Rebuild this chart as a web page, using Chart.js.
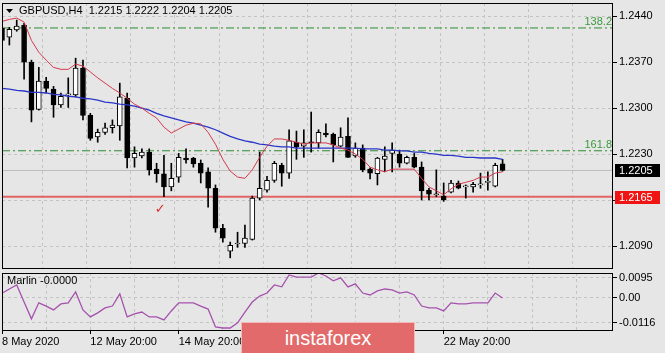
<!DOCTYPE html>
<html>
<head>
<meta charset="utf-8">
<script src="https://cdn.jsdelivr.net/npm/chart.js@4.4.1/dist/chart.umd.min.js"></script>
<style>
  html, body { margin: 0; padding: 0; background: #e6e6e6; }
  #wrap { position: relative; width: 665px; height: 353px; overflow: hidden; }
  #main { position: absolute; left: 0; top: 0; }
  #osc { position: absolute; left: 0; top: 271px; }
  #logo {
    position: absolute; left: 241px; top: 322px; width: 172px; height: 31px;
    background: #e26a6a; border: 1px solid #f3b9b9; color: #fff;
    font: 20px "Liberation Sans", Arial, sans-serif; text-align: center; line-height: 30px;
  }
</style>
</head>
<body>
<div id="wrap">
  <canvas id="main" width="665" height="271"></canvas>
  <canvas id="osc" width="665" height="82"></canvas>
  <div id="logo">instaforex</div>
</div>
<script>
// GBPUSD H4 candles
const opens  = [1.2422,1.2408,1.2419,1.2426,1.2370,1.2298,1.2341,1.2329,1.2305,1.2320,1.2320,1.2361,1.2289,1.2256,1.2263,1.2270,1.2273,1.2315,1.2224,1.2227,
                1.2233,1.2207,1.2200,1.2180,1.2195,1.2224,1.2224,1.2216,1.2203,1.2178,1.2117,1.2082,1.2093,1.2094,1.2100,1.2163,1.2175,1.2190,1.2213,1.2201,
                1.2248,1.2242,1.2248,1.2247,1.2262,1.2260,1.2242,1.2257,1.2227,1.2239,1.2207,1.2200,1.2222,1.2231,1.2230,1.2216,1.2225,1.2210,1.2175,1.2168,
                1.2166,1.2172,1.2186,1.2180,1.2180,1.2183,1.2187,1.2181,1.2215];
const highs  = [1.2425,1.2423,1.2434,1.2429,1.2373,1.2362,1.2347,1.2333,1.2323,1.2346,1.2376,1.2373,1.2292,1.2268,1.2277,1.2282,1.2338,1.2323,1.2241,1.2238,
                1.2238,1.2216,1.2228,1.2216,1.2231,1.2238,1.2225,1.2221,1.2209,1.2183,1.2123,1.2096,1.2111,1.2122,1.2166,1.2233,1.2196,1.2219,1.2216,1.2267,
                1.2265,1.2267,1.2294,1.2267,1.2276,1.2262,1.2270,1.2285,1.2247,1.2244,1.2209,1.2225,1.2241,1.2247,1.2236,1.2227,1.2231,1.2218,1.2178,1.2206,
                1.2186,1.2190,1.2189,1.2183,1.2187,1.2201,1.2203,1.2216,1.2222];
const lows   = [1.2400,1.2396,1.2417,1.2344,1.2279,1.2297,1.2323,1.2286,1.2301,1.2301,1.2317,1.2282,1.2251,1.2248,1.2260,1.2262,1.2251,1.2209,1.2210,1.2224,
                1.2198,1.2187,1.2165,1.2174,1.2187,1.2216,1.2210,1.2186,1.2149,1.2111,1.2096,1.2072,1.2088,1.2088,1.2099,1.2160,1.2172,1.2187,1.2181,1.2193,
                1.2222,1.2225,1.2233,1.2239,1.2256,1.2218,1.2241,1.2225,1.2225,1.2203,1.2192,1.2183,1.2203,1.2203,1.2210,1.2215,1.2209,1.2160,1.2160,1.2165,
                1.2158,1.2171,1.2177,1.2163,1.2172,1.2178,1.2175,1.2180,1.2204];
const closes = [1.2403,1.2420,1.2425,1.2370,1.2297,1.2341,1.2330,1.2305,1.2318,1.2321,1.2361,1.2289,1.2254,1.2263,1.2270,1.2274,1.2317,1.2224,1.2231,1.2233,
                1.2206,1.2200,1.2180,1.2193,1.2225,1.2221,1.2215,1.2201,1.2178,1.2117,1.2102,1.2091,1.2093,1.2102,1.2163,1.2178,1.2190,1.2216,1.2201,1.2250,
                1.2241,1.2247,1.2247,1.2263,1.2259,1.2244,1.2256,1.2225,1.2239,1.2206,1.2201,1.2224,1.2227,1.2236,1.2216,1.2225,1.2210,1.2174,1.2169,1.2168,
                1.2160,1.2186,1.2178,1.2180,1.2184,1.2183,1.2187,1.2213,1.2205];

// moving averages as drawn on the chart
const maFast = [1.2432,1.2435,1.2437,1.2431,1.2403,1.2385,1.2373,1.2362,1.2359,1.2359,1.2367,1.2364,1.2355,1.2346,1.2338,1.2330,1.2323,1.2315,1.2306,1.2300,
                1.2292,1.2285,1.2271,1.2262,1.2268,1.2274,1.2277,1.2276,1.2263,1.2245,1.2222,1.2204,1.2195,1.2193,1.2206,1.2225,1.2242,1.2253,1.2253,1.2251,
                1.2248,1.2245,1.2247,1.2247,1.2247,1.2244,1.2239,1.2236,1.2230,1.2222,1.2210,1.2206,1.2203,1.2207,1.2207,1.2207,1.2207,1.2193,1.2180,1.2174,
                1.2168,1.2177,1.2184,1.2187,1.2190,1.2195,1.2195,1.2201,1.2203];
const maSlow = [1.2330,1.2329,1.2327,1.2326,1.2324,1.2324,1.2323,1.2321,1.2320,1.2318,1.2317,1.2315,1.2314,1.2312,1.2309,1.2308,1.2306,1.2305,1.2303,1.2300,
                1.2297,1.2292,1.2288,1.2285,1.2282,1.2279,1.2277,1.2274,1.2271,1.2267,1.2262,1.2257,1.2253,1.2250,1.2248,1.2245,1.2244,1.2242,1.2241,1.2241,
                1.2239,1.2239,1.2239,1.2239,1.2239,1.2239,1.2239,1.2239,1.2239,1.2238,1.2238,1.2238,1.2236,1.2236,1.2235,1.2235,1.2233,1.2233,1.2231,1.2230,
                1.2228,1.2228,1.2227,1.2225,1.2225,1.2224,1.2224,1.2224,1.2222];

// Marlin oscillator
const marlin = [0.0022,0.0042,0.0061,-0.0019,-0.0098,-0.0023,-0.0038,-0.0056,-0.0028,-0.0023,0.0028,-0.0056,-0.0089,-0.0070,-0.0047,-0.0038,0.0019,-0.0089,-0.0075,-0.0066,
                -0.0089,-0.0089,-0.0103,-0.0061,-0.0023,-0.0023,-0.0023,-0.0038,-0.0052,-0.0136,-0.0141,-0.0141,-0.0117,-0.0066,-0.0019,0.0009,0.0023,0.0061,0.0052,0.0108,
                0.0098,0.0098,0.0098,0.0117,0.0103,0.0080,0.0094,0.0052,0.0066,0.0023,0.0014,0.0033,0.0042,0.0038,0.0023,0.0028,0.0014,-0.0038,-0.0047,-0.0047,
                -0.0061,-0.0023,-0.0028,-0.0028,-0.0023,-0.0023,-0.0023,0.0023,0.0000];

const slotCount = 84;
const timeLabels = { 0: '8 May 2020', 12: '12 May 20:00', 24: '14 May 20:00', 60: '22 May 20:00' };
const priceTicks = [1.2440, 1.2370, 1.2300, 1.2230, 1.2160, 1.2090];
const marlinTicks = [0.0095, 0, -0.0116];
const fiboNames = ['138.2', '161.8'];
const fiboLevels = [1.2422, 1.2235];
const supportLevel = 1.2165;
const lastPrice = closes[closes.length - 1];

const slots = Array.from({ length: slotCount }, (_, i) => 'b' + i);
const gridColor = '#c3c3c3';

Chart.defaults.font.family = '"Liberation Sans", Arial, sans-serif';
Chart.defaults.font.size = 11;
Chart.defaults.color = '#000';

function xAxis(showLabels) {
  return {
    type: 'category',
    offset: false,
    border: { display: false, dash: [3, 3] },
    grid: {
      color: c => (c.index % 6 === 0 && c.index > 0) ? gridColor : 'rgba(0,0,0,0)',
      drawTicks: showLabels,
      tickLength: 3,
      tickColor: c => timeLabels[c.index] ? '#000' : 'rgba(0,0,0,0)'
    },
    ticks: {
      display: showLabels,
      autoSkip: false,
      maxRotation: 0,
      align: 'start',
      padding: 1,
      callback: (v, i) => timeLabels[i] || ''
    },
    afterFit: s => {
      s.height = showLabels ? 22 : 0;
      s.paddingLeft = 0; s.paddingRight = 0;
    }
  };
}

function yAxis(min, max, ticks, fmt) {
  return {
    position: 'right',
    min: min, max: max,
    border: { display: false, dash: [3, 3] },
    grid: { color: gridColor, tickLength: 4, tickColor: '#000' },
    ticks: { padding: 2, callback: fmt },
    afterBuildTicks: s => { s.ticks = ticks.map(v => ({ value: v })); },
    afterFit: s => {
      s.width = 52;
      s.paddingTop = 0; s.paddingBottom = 0;
    }
  };
}

const frame = {
  id: 'frame',
  afterDraw(chart) {
    const { ctx, chartArea: a } = chart;
    ctx.save();
    ctx.strokeStyle = '#000';
    ctx.lineWidth = 1;
    ctx.strokeRect(Math.round(a.left) + 0.5, Math.round(a.top) + 0.5,
      Math.round(a.right - a.left) - 1, Math.round(a.bottom - a.top) - 1);
    ctx.restore();
  }
};

const mainText = {
  id: 'mainText',
  afterDraw(chart) {
    const { ctx, scales: { x, y } } = chart;
    ctx.save();
    ctx.font = '11px "Liberation Sans", Arial, sans-serif';
    ctx.textBaseline = 'middle';
    // header
    ctx.fillStyle = '#000';
    ctx.beginPath();
    ctx.moveTo(6, 9); ctx.lineTo(13, 9); ctx.lineTo(9.5, 13); ctx.closePath(); ctx.fill();
    const n = closes.length - 1;
    ctx.fillText('GBPUSD,H4  ' + opens[n].toFixed(4) + ' ' + highs[n].toFixed(4) + ' ' +
      lows[n].toFixed(4) + ' ' + closes[n].toFixed(4), 19, 11);
    // fibo names
    ctx.fillStyle = '#3c9a3c';
    ctx.textAlign = 'right';
    ctx.textBaseline = 'alphabetic';
    fiboLevels.forEach((v, i) => ctx.fillText(fiboNames[i], 612, y.getPixelForValue(v) - 3));
    // price tags
    ctx.textAlign = 'left';
    ctx.textBaseline = 'middle';
    [[lastPrice, '#000'], [supportLevel, '#f01515']].forEach(([v, bg]) => {
      const py = Math.round(y.getPixelForValue(v));
      ctx.fillStyle = bg;
      ctx.fillRect(615, py - 6, 45, 13);
      ctx.fillStyle = '#fff';
      ctx.fillText(v.toFixed(4), 619, py + 0.5);
    });
    // check mark
    ctx.fillStyle = '#e02828';
    ctx.textAlign = 'center';
    ctx.font = '13px "DejaVu Sans", sans-serif';
    ctx.fillText('\u2713', x.getPixelForValue(21.5), y.getPixelForValue(1.2146));
    ctx.restore();
  }
};

const oscText = {
  id: 'oscText',
  afterDraw(chart) {
    const { ctx } = chart;
    ctx.save();
    ctx.font = '11px "Liberation Sans", Arial, sans-serif';
    ctx.fillStyle = '#000';
    ctx.textBaseline = 'middle';
    const v = marlin[marlin.length - 1];
    ctx.fillText('Marlin ' + (v <= 0 ? '-' : '') + Math.abs(v).toFixed(4), 7, 10);
    ctx.restore();
  }
};

function level(v, color, width, dash, order) {
  return {
    type: 'line',
    data: [{ x: slots[0], y: v }, { x: slots[slotCount - 1], y: v }],
    borderColor: color, borderWidth: width, borderDash: dash,
    pointRadius: 0, order: order
  };
}

new Chart(document.getElementById('main'), {
  type: 'bar',
  data: {
    labels: slots,
    datasets: [
      { type: 'line', data: maFast, borderColor: '#d43a4c', borderWidth: 1, pointRadius: 0, order: 0 },
      { type: 'line', data: maSlow, borderColor: '#2b36c8', borderWidth: 1.3, pointRadius: 0, order: 0 },
      {
        data: opens.map((o, i) => [o, closes[i]]),
        backgroundColor: opens.map((o, i) => closes[i] >= o ? '#fff' : '#000'),
        borderColor: '#000', borderWidth: 1, borderSkipped: false,
        barThickness: 5, minBarLength: 1, grouped: false, order: 1
      },
      {
        data: lows.map((l, i) => [l, highs[i]]),
        backgroundColor: '#000', barThickness: 1, grouped: false, order: 2
      },
      level(fiboLevels[0], '#2f8a2f', 1, [8, 3, 2, 3], 3),
      level(fiboLevels[1], '#2f8a2f', 1, [8, 3, 2, 3], 3),
      level(supportLevel, '#e06464', 2, [], 3),
      level(lastPrice, '#bdbdbd', 1, [], 4)
    ]
  },
  options: {
    responsive: false,
    animation: false,
    events: [],
    layout: { padding: { left: 2, top: 3, right: 0, bottom: 2 } },
    plugins: { legend: { display: false }, tooltip: { enabled: false } },
    scales: {
      x: xAxis(false),
      y: yAxis(1.2055, 1.2460, priceTicks, v => v.toFixed(4))
    }
  },
  plugins: [frame, mainText]
});

new Chart(document.getElementById('osc'), {
  type: 'line',
  data: {
    labels: slots,
    datasets: [
      { data: marlin, borderColor: '#a552ad', borderWidth: 1.3, pointRadius: 0 }
    ]
  },
  options: {
    responsive: false,
    animation: false,
    events: [],
    layout: { padding: { left: 2, top: 2, right: 0, bottom: 0 } },
    plugins: { legend: { display: false }, tooltip: { enabled: false } },
    scales: {
      x: xAxis(true),
      y: yAxis(-0.0155, 0.0117, marlinTicks, v => v === 0 ? '0.00' : v.toFixed(4))
    }
  },
  plugins: [frame, oscText]
});
</script>
</body>
</html>
